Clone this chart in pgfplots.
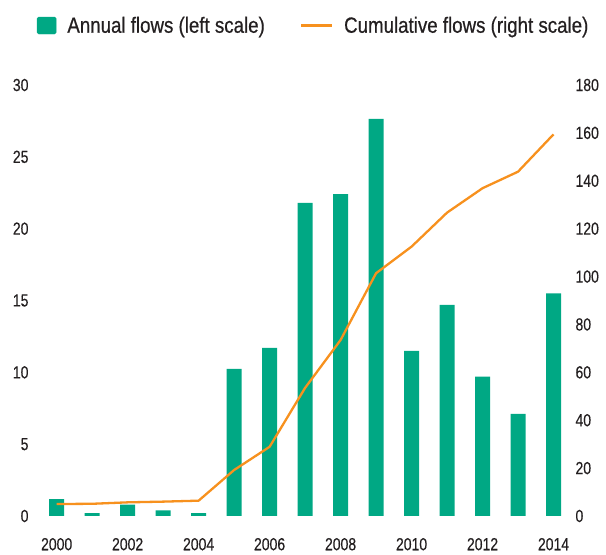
\documentclass[border=0pt]{standalone}
\usepackage{fontspec}
\setmainfont{Liberation Sans}[FakeStretch=0.82]
\newfontfamily\legfont{Liberation Sans}[FakeStretch=0.85, FakeBold=0.6]
\newfontfamily\tickfont{Liberation Sans}[FakeStretch=0.8, FakeBold=0.3]
\usepackage{pgfplots}
\pgfplotsset{compat=1.18}
\definecolor{barc}{RGB}{0,168,132}
\definecolor{linec}{RGB}{247,145,30}
\definecolor{txt}{RGB}{35,31,32}
\begin{document}
\begin{tikzpicture}
\pgfplotsset{
  every axis/.style={
    scale only axis, width=537pt, height=431pt,
    at={(0,0)}, anchor=south west,
    xmin=1999.39, xmax=2014.52,
    axis line style={draw=none},
    major tick length=0pt,
    /pgf/number format/assume math mode=true,
    tick label style={font=\tickfont\fontsize{17.5}{20}\selectfont, text=txt},
    clip=false,
  }
}
\begin{axis}[
  ymin=0, ymax=30, ytick={0,5,...,30},
  xtick={2000,2002,...,2014},
  x tick label style={/pgf/number format/1000 sep={}, yshift=-18.5pt},
  yticklabel style={xshift=-3pt},
]
\addplot[ybar, bar width=15pt, fill=barc, draw=none] coordinates {
(2000,1.18) (2001,0.2) (2002,0.8) (2003,0.4) (2004,0.2)
(2005,10.24) (2006,11.7) (2007,21.8) (2008,22.4) (2009,27.65)
(2010,11.5) (2011,14.7) (2012,9.7) (2013,7.1) (2014,15.5)
};
\end{axis}
\begin{axis}[
  ymin=0, ymax=180, ytick={0,20,...,180},
  axis y line*=right, xtick=\empty,
  yticklabel style={xshift=0pt},
  legend style={at={(axis description cs:0.0037,1.138)}, anchor=west,
    draw=none, fill=none, inner sep=0pt, outer sep=0pt,
    font=\legfont\fontsize{22}{26}\selectfont, text=txt,
    legend columns=2,
    nodes={inner sep=0pt, anchor=west},
    /tikz/every odd column/.append style={column sep=11pt},
    /tikz/every even column/.append style={column sep=35pt},
  },
  legend cell align=left,
]
\addlegendimage{legend image code/.code={\fill[barc, rounded corners=1.5pt] (0pt,-8.5pt) rectangle (19pt,8.5pt);}}
\addlegendentry{Annual flows (left scale)}
\addplot[linec, line width=2.3pt, line join=round,
  legend image code/.code={\draw[linec, line width=2.3pt] (0pt,0pt) -- (31pt,0pt);}] coordinates {
(2000,5.0) (2001,5.1) (2002,5.7) (2003,6.0) (2004,6.4)
(2005,19.2) (2006,28.9) (2007,53.5) (2008,73.5) (2009,101.4)
(2010,112.5) (2011,126.7) (2012,136.9) (2013,143.8) (2014,159.4)
};
\addlegendentry{Cumulative flows (right scale)}
\end{axis}
\pgfresetboundingbox
\path[use as bounding box] (-35pt,-39pt) rectangle (571pt,516pt);
\end{tikzpicture}
\end{document}
